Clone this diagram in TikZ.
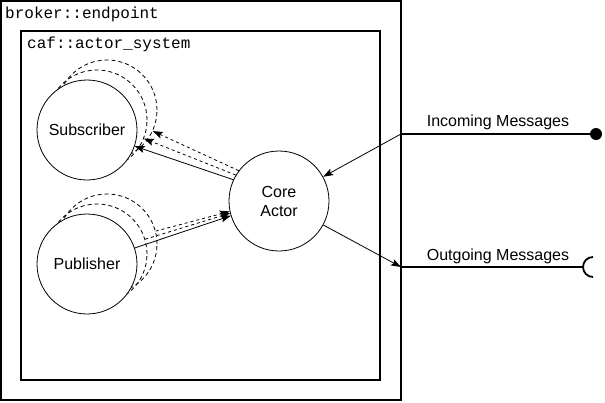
\documentclass[tikz,border=0pt]{standalone}
\usepackage{fontspec}
\setmainfont{Liberation Sans}
\setmonofont{Liberation Mono}
\usetikzlibrary{arrows.meta}

\begin{document}
\begin{tikzpicture}[x=1pt, y=-1pt,
    actor/.style={circle, draw, fill=white, minimum size=100pt, inner sep=0pt, line width=0.8pt, align=center, font=\fontsize{16}{19}\selectfont},
    ghost/.style={circle, draw, dash pattern=on 4pt off 3pt, minimum size=100pt, inner sep=0pt, line width=0.8pt},
    msg/.style={-{Stealth[length=10pt,width=7pt,inset=2pt]}, line width=0.8pt},
    wire/.style={line width=1.8pt},
    frame/.style={draw, line width=1.8pt},
    tag/.style={anchor=base west, inner sep=0pt, font=\ttfamily\fontsize{16}{19}\selectfont},
    port/.style={anchor=base, inner sep=0pt, font=\fontsize{16}{19}\selectfont}]
  \useasboundingbox (0,0) rectangle (605,402);
  \draw[frame] (1,1) rectangle (401,400);
  \draw[frame] (21,31) rectangle (380,380);
  \node[tag] (endpoint) at (5,18) {broker::endpoint};
  \node[tag] (system) at (27,48) {caf::actor\_system};

  \foreach \k in {2,1} {
    \node[ghost] (sub\k) at (87+10*\k,130-10*\k) {};
    \node[ghost] (pub\k) at (87+10*\k,264-10*\k) {};
  }
  \node[actor] (sub) at (87,130) {Subscriber};
  \node[actor] (pub) at (87,264) {Publisher};
  \node[actor] (core) at (279,201) {Core\\Actor};

  \draw[msg] (core.155) -- (sub);
  \draw[msg, dashed] (core.149) -- (sub1);
  \draw[msg, dashed] (core.143) -- (sub2);
  \draw[msg] (pub) -- (core.197);
  \draw[msg, dashed] (pub1) -- (core.194);
  \draw[msg, dashed] (pub2) -- (core.192);

  \coordinate (inport) at (401,134);
  \coordinate (outport) at (401,267);
  \coordinate (outsock) at (583,267);
  \node[circle, fill, inner sep=0pt, minimum size=12pt] (indot) at (596,134) {};
  \draw[wire] (inport) -- (indot);
  \draw[wire] (outport) -- (outsock);
  \draw[wire] (outsock) ++(10,10) arc[start angle=90, end angle=270, radius=10];
  \node[port] (inlabel) at (498,126) {Incoming Messages};
  \node[port] (outlabel) at (498,260) {Outgoing Messages};
  \draw[msg] (inport) -- (core);
  \draw[msg] (core) -- (outport);
\end{tikzpicture}
\end{document}
